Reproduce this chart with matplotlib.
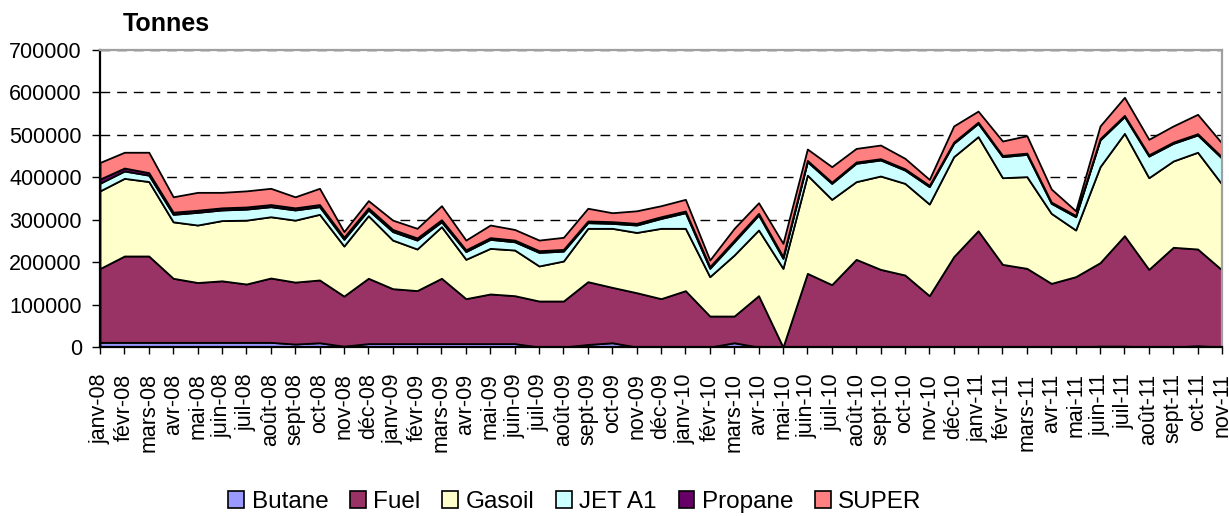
import matplotlib
matplotlib.use("Agg")
import matplotlib.pyplot as plt
from matplotlib.patches import Patch
from matplotlib.ticker import FixedLocator, StrMethodFormatter

plt.rcParams['font.family'] = ['Liberation Sans', 'DejaVu Sans']

months = ["janv-08", "févr-08", "mars-08", "avr-08", "mai-08", "juin-08", "juil-08", "août-08",
          "sept-08", "oct-08", "nov-08", "déc-08",
          "janv-09", "févr-09", "mars-09", "avr-09", "mai-09", "juin-09", "juil-09", "août-09",
          "sept-09", "oct-09", "nov-09", "déc-09",
          "janv-10", "févr-10", "mars-10", "avr-10", "mai-10", "juin-10", "juil-10", "août-10",
          "sept-10", "oct-10", "nov-10", "déc-10",
          "janv-11", "févr-11", "mars-11", "avr-11", "mai-11", "juin-11", "juil-11", "août-11",
          "sept-11", "oct-11", "nov-11"]

# values in thousand tonnes
butane = [11, 11, 11, 11, 11, 11, 11, 11, 7, 10, 2, 8,
          8, 8, 8, 8, 8, 8, 0, 0, 6, 10, 0, 0,
          0, 0, 10, 0, 0, 0, 0, 0, 0, 0, 0, 0,
          0, 0, 0, 0, 0, 2, 2, 0, 0, 3, 0]
fuel = [174, 203.5, 203.5, 151, 141, 145, 137.5, 151.6, 146, 148, 118, 154,
        129.5, 125, 154, 106, 117, 113, 108.4, 108.4, 148, 130.6, 128, 114,
        132.8, 73, 63, 121, 0, 173.6, 147, 206.6, 183, 169.7, 121, 213,
        274, 194.8, 185.4, 150, 165.8, 196.8, 260.4, 183, 235, 228, 181.5]
gasoil = [183, 183, 175.5, 133, 135.5, 142, 150.5, 144.4, 146, 154.7, 118, 147.5,
          114.5, 98, 121.6, 92.7, 107.5, 107.6, 82.6, 94.3, 125.7, 139.1, 142, 165.7,
          146.9, 92.8, 143.8, 154.8, 185.4, 231.4, 201, 183.1, 220, 216, 216, 235.6,
          221.8, 204.2, 216.1, 165, 110, 226.2, 241.2, 216, 203.4, 228, 201.9]
jet_a1 = [18, 17.3, 15, 17.7, 29.9, 25, 26, 23.7, 24, 18, 15.8, 13.5,
          20, 21, 11.4, 18.3, 21.2, 19.4, 32, 23.3, 13.3, 11.7, 17.5, 23.3,
          36.8, 19.6, 31.2, 35.2, 23.6, 31.7, 37.6, 43.3, 37.8, 31.3, 40.9, 31.4,
          31.2, 49.6, 52.5, 23.6, 31.2, 63, 39.4, 51, 41.6, 40.7, 61.3]
propane = [10, 7, 6, 5, 5, 5, 5, 5, 5, 5, 5, 5,
           5, 5, 5, 4, 4, 4, 4, 4, 4, 4, 4, 4,
           4, 4, 4, 4, 4, 3, 3, 3, 3, 3, 3, 3,
           3, 3, 3, 3, 3, 3, 3, 3, 3, 3, 3]
super_ = [39, 37.2, 48, 36.3, 42.1, 36.5, 38, 38.3, 26, 38.3, 13.2, 17,
          22, 22.7, 33, 23, 29.8, 25, 25, 28.5, 30, 21.1, 29.5, 26,
          27.5, 15.6, 27.7, 25, 31.3, 26.9, 36.4, 32, 32.2, 24.7, 14.1, 38,
          26, 33.9, 41, 30.8, 11, 30, 42.5, 36.5, 38, 45.7, 32.3]

series_names = ["Butane", "Fuel", "Gasoil", "JET A1", "Propane", "SUPER"]
colors = ["#9999FF", "#993366", "#FFFFCC", "#CCFFFF", "#660066", "#FF8080"]
yticks = [0, 100000, 200000, 300000, 400000, 500000, 600000, 700000]

data = [[v * 1000 for v in s] for s in (butane, fuel, gasoil, jet_a1, propane, super_)]
x = list(range(len(months)))

fig = plt.figure(figsize=(12.29, 5.16), dpi=100)
ax = fig.add_axes([100 / 1229, 1 - 347 / 516, 1122 / 1229, 297 / 516])

ax.stackplot(x, *data, colors=colors, edgecolor="black", linewidth=1.3, zorder=2)

ax.set_xlim(0, len(months) - 1)
ax.set_ylim(0, 700000)
ax.yaxis.set_major_locator(FixedLocator(yticks))
ax.yaxis.set_major_formatter(StrMethodFormatter("{x:.0f}"))
ax.set_xticks(x)
ax.set_xticklabels(months, rotation=90, fontsize=15.5)
ax.tick_params(axis="y", labelsize=15.5, length=6, width=1, pad=7)
ax.tick_params(axis="x", length=5, width=1, pad=14)
ax.yaxis.grid(True, linestyle=(0, (7, 5)), color="black", linewidth=1, zorder=0)
ax.set_axisbelow(True)

for s in ("left", "bottom"):
    ax.spines[s].set_color("black")
    ax.spines[s].set_linewidth(1.6)
for s in ("top", "right"):
    ax.spines[s].set_color("#a0a0a0")
    ax.spines[s].set_linewidth(1.6)

fig.text(123 / 1229, 1 - 24 / 516, "Tonnes", fontsize=18, fontweight="bold",
         ha="left", va="center")

handles = [Patch(facecolor=c, edgecolor="black", linewidth=1.2) for c in colors]
fig.legend(handles, series_names, loc="center", bbox_to_anchor=(575 / 1229, 1 - 502 / 516),
           ncol=6, frameon=False, fontsize=17.5, handlelength=0.65, handleheight=0.65,
           handletextpad=0.3, columnspacing=0.9, borderaxespad=0)

fig.savefig("out.png", dpi=100)
